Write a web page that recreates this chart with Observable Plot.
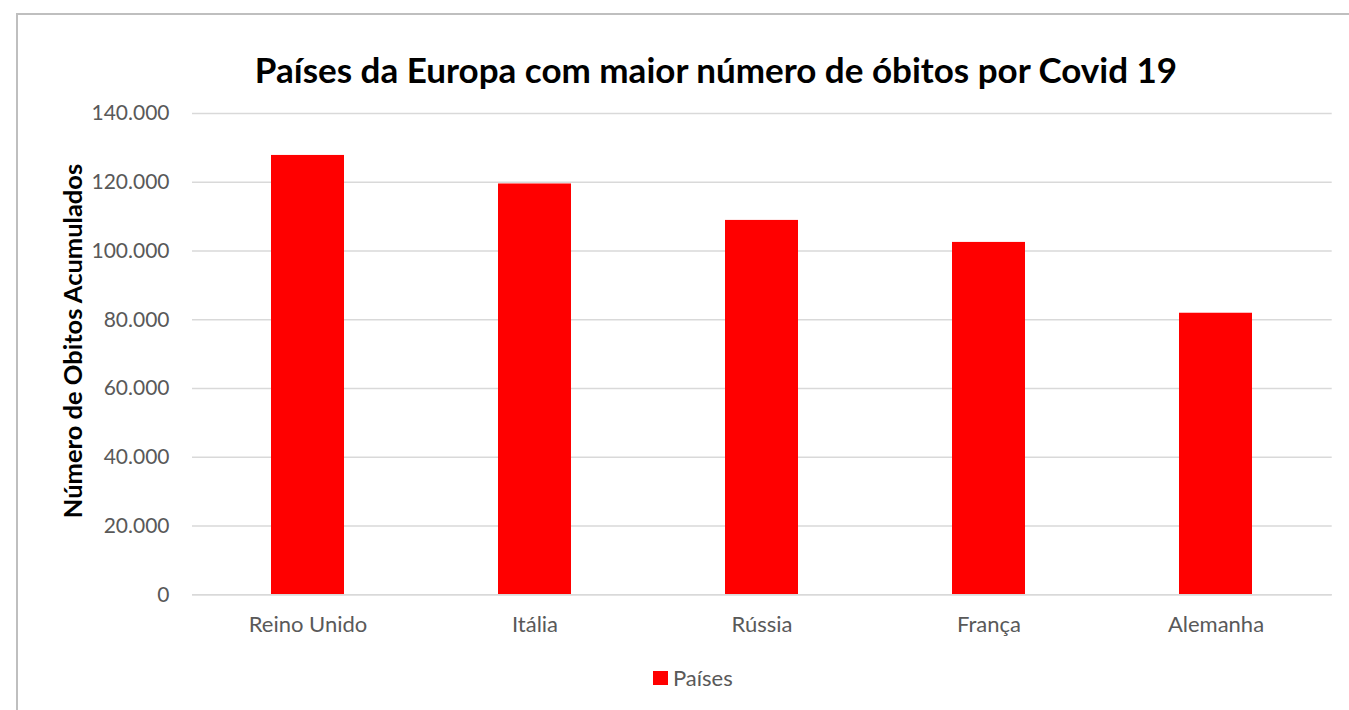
<!DOCTYPE html>
<html>
<head>
<meta charset="utf-8">
<script src="https://cdn.jsdelivr.net/npm/d3@7"></script>
<script src="https://cdn.jsdelivr.net/npm/@observablehq/plot@0.6"></script>
<style>
  html, body { margin: 0; padding: 0; background: #fff; overflow: hidden; }
  body { width: 1349px; height: 710px; position: relative; font-family: Lato, "Open Sans", sans-serif; }
  #frame { position: absolute; left: 16px; top: 13px; width: 1400px; height: 800px; border: 2px solid #bfbfbf; }
  #title { position: absolute; left: 0; top: 48px; width: 1432px; text-align: center;
           font-size: 35px; font-weight: bold; color: #000; line-height: 1.2; white-space: nowrap; }
  #ylabel { position: absolute; left: 72px; top: 341px; transform: translate(-50%, -50%) rotate(-90deg);
            font-size: 25.5px; font-weight: bold; color: #000; white-space: nowrap; line-height: 1.2; }
  #chart { position: absolute; left: 0; top: 0; }
  #legend { position: absolute; left: 653px; top: 665px; font-size: 22px; color: #595959;
            display: flex; align-items: center; line-height: 1.2; }
  #legend .swatch { width: 15px; height: 14px; background: #ff0000; margin-right: 5px; }
</style>
</head>
<body>
<div id="frame"></div>
<div id="title">Países da Europa com maior número de óbitos por Covid 19</div>
<div id="ylabel">Número de Obitos Acumulados</div>
<div id="chart"></div>
<div id="legend"><span class="swatch"></span><span id="legend-label"></span></div>
<script>
// Accumulated Covid-19 deaths, European countries
const countries = ["Reino Unido", "Itália", "Rússia", "França", "Alemanha"];
const deaths = [127800, 119500, 108900, 102500, 81900];
const yTicks = [0, 20000, 40000, 60000, 80000, 100000, 120000, 140000];
const seriesName = "Países";

const data = countries.map((country, i) => ({country, deaths: deaths[i]}));

// Portuguese number format: 140.000
const ptFormat = d3.formatLocale({decimal: ",", thousands: ".", grouping: [3], currency: ["", ""]}).format(",d");

const chart = Plot.plot({
  width: 1349,
  height: 710,
  marginTop: 113,
  marginBottom: 115.7,
  marginLeft: 192,
  marginRight: 17.3,
  style: {fontFamily: "Lato, 'Open Sans', sans-serif", fontSize: "21px", color: "#595959", background: "none", overflow: "visible"},
  x: {domain: countries, paddingInner: 0.678, paddingOuter: 0.339, label: null},
  y: {domain: [0, 140000], label: null},
  marks: [
    Plot.gridY(yTicks, {stroke: "#d9d9d9", strokeOpacity: 1, strokeWidth: 1.5}),
    Plot.barY(data, {x: "country", y: "deaths", fill: "#ff0000"}),
    Plot.ruleY([0], {stroke: "#d9d9d9", strokeWidth: 1.5}),
    Plot.axisY(yTicks, {tickSize: 0, tickPadding: 23, tickFormat: ptFormat, fill: "#595959"}),
    Plot.axisX({tickSize: 0, tickPadding: 22, fontSize: 22, fill: "#595959"})
  ]
});
document.getElementById("chart").appendChild(chart);
document.getElementById("legend-label").textContent = seriesName;
</script>
</body>
</html>
